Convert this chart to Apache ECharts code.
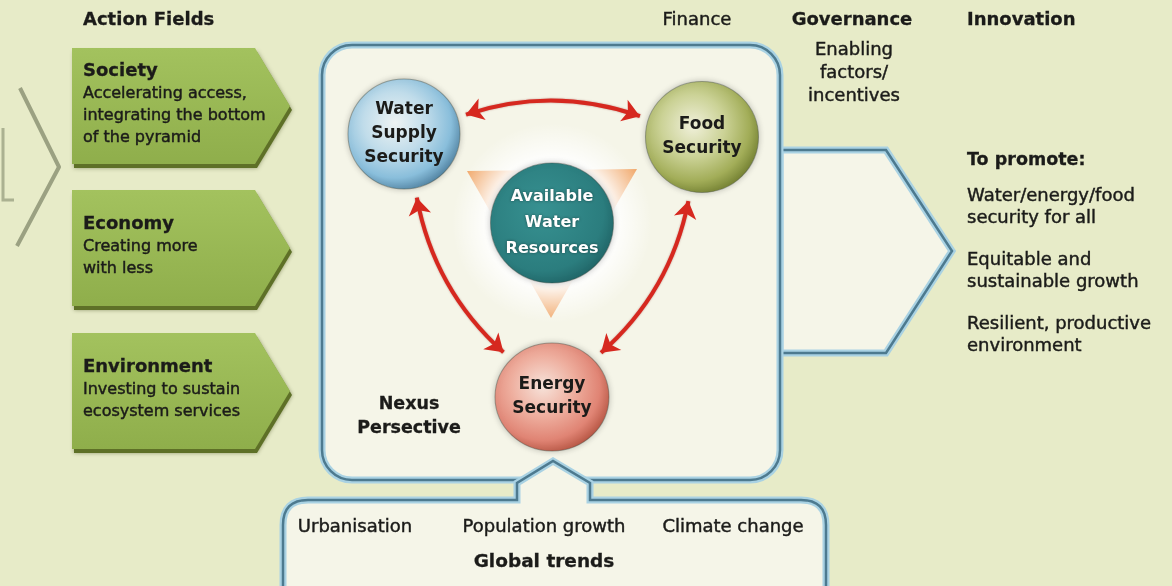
<!DOCTYPE html>
<html>
<head>
<meta charset="utf-8">
<title>Nexus perspective</title>
<script src="https://cdn.jsdelivr.net/npm/echarts@6.0.0/dist/echarts.min.js"></script>
<style>
  html, body { margin: 0; padding: 0; background: #e7ebc8; }
  #main { width: 1172px; height: 586px; }
</style>
</head>
<body>
<div id="main"></div>
<script>
// texts of the diagram
var actionTitle = 'Action Fields';
var actionFields = ['Society', 'Economy', 'Environment'];
var actionNotes = [
  ['Accelerating access,', 'integrating the bottom', 'of the pyramid'],
  ['Creating more', 'with less'],
  ['Investing to sustain', 'ecosystem services']
];
var nexusNodes = ['Water\nSupply\nSecurity', 'Food\nSecurity', 'Available\nWater\nResources', 'Energy\nSecurity'];
var nexusLinks = [[0, 1], [0, 3], [1, 3]];
var linkBend = [-1, 1, -1];
var enablers = ['Finance', 'Governance', 'Innovation'];
var enablerBold = [false, true, true];
var enablerNote = 'Enabling\nfactors/\nincentives';
var promoteTitle = 'To promote:';
var promoteItems = ['Water/energy/food\nsecurity for all', 'Equitable and\nsustainable growth', 'Resilient, productive\nenvironment'];
var nexusTitle = 'Nexus\nPersective';
var globalTrends = ['Urbanisation', 'Population growth', 'Climate change'];
var trendsTitle = 'Global trends';

// layout, in pixels of the 1172 x 586 frame
var nodePos = [[404, 134], [702, 137], [552, 223], [552, 397]];
var nodeSize = [[112, 110], [113, 111], [123, 120], [114, 108]];
var fieldTops = [48, 190, 333];
var enablerX = [697, 852, 967];
var enablerAlign = ['center', 'center', 'left'];
var trendX = [355, 544, 733];

var FONT = '"DejaVu Sans", "Liberation Sans", sans-serif';
var INK = '#1b1b19';
var PAPER = '#f5f5e8';
var LIGHT = '#a9d2e3', DARK = '#4d7a8f';

var myChart = echarts.init(document.getElementById('main'));

function radial(stops) {
  return new echarts.graphic.RadialGradient(0.42, 0.4, 0.62, stops.map(function (s) {
    return { offset: s[0], color: s[1] };
  }));
}
var nodeFill = [
  radial([[0, '#eef3f3'], [0.45, '#c0dcea'], [0.8, '#89bedb'], [1, '#5789a8']]),
  radial([[0, '#f0f0da'], [0.45, '#cbd296'], [0.8, '#a2ad58'], [1, '#788536']]),
  radial([[0, '#379191'], [0.8, '#2b7d7e'], [1, '#22686a']]),
  radial([[0, '#f7e3da'], [0.45, '#eeae9e'], [0.8, '#e08474'], [1, '#bb5a48']])
];

// arrow ends sit just outside the circles, turned a little to the outer side
var deg = Math.PI / 180;
function rim(p, q, r, rot) {
  var a = Math.atan2(q[1] - p[1], q[0] - p[0]) + rot;
  return [p[0] + r * Math.cos(a), p[1] + r * Math.sin(a)];
}
var linkData = nexusLinks.map(function (l, i) {
  var a = nodePos[l[0]], b = nodePos[l[1]];
  var ra = nodeSize[l[0]][0] / 2 + 9, rb = nodeSize[l[1]][0] / 2 + 9;
  var t = linkBend[i] * 18 * deg;
  return { coords: [rim(a, b, ra, t), rim(b, a, rb, -t)], lineStyle: { curveness: -linkBend[i] * 0.17 } };
});

function roundPoly(points, radii) {
  var out = [], n = points.length;
  for (var i = 0; i < n; i++) {
    var p = points[i], r = radii[i] || 0;
    if (!r) { out.push(p); continue; }
    var a = points[(i - 1 + n) % n], b = points[(i + 1) % n];
    var la = Math.hypot(a[0] - p[0], a[1] - p[1]), lb = Math.hypot(b[0] - p[0], b[1] - p[1]);
    var s = [p[0] + (a[0] - p[0]) / la * r, p[1] + (a[1] - p[1]) / la * r];
    var e = [p[0] + (b[0] - p[0]) / lb * r, p[1] + (b[1] - p[1]) / lb * r];
    for (var k = 0; k <= 8; k++) {
      var t = k / 8, u = 1 - t;
      out.push([u * u * s[0] + 2 * u * t * p[0] + t * t * e[0], u * u * s[1] + 2 * u * t * p[1] + t * t * e[1]]);
    }
  }
  return out;
}

function renderDecor(params, api) {
  function pt(p) { return api.coord(p); }
  function pts(list) { return list.map(pt); }
  var g = [];
  function outlined(points) {
    g.push({ type: 'polygon', shape: { points: pts(points) }, style: { fill: PAPER, stroke: LIGHT, lineWidth: 7 } });
    g.push({ type: 'polygon', shape: { points: pts(points) }, style: { fill: 'none', stroke: DARK, lineWidth: 2.5 } });
  }
  // faded arrow at the far left
  g.push({ type: 'polyline', shape: { points: pts([[20, 88], [59, 167], [17, 246]]) },
    style: { stroke: 'rgba(122,130,100,0.7)', lineWidth: 4, fill: 'none', lineJoin: 'round' } });
  g.push({ type: 'polyline', shape: { points: pts([[3, 128], [3, 200], [14, 200]]) },
    style: { stroke: 'rgba(122,130,100,0.55)', lineWidth: 3, fill: 'none' } });
  // action field arrows
  fieldTops.forEach(function (top) {
    var box = [[72, top], [255, top], [290, top + 58], [255, top + 116], [72, top + 116]];
    g.push({ type: 'polygon', shape: { points: pts(box.map(function (p) { return [p[0] + 2, p[1] + 4]; })) },
      style: { fill: '#5e7027', shadowBlur: 4, shadowColor: 'rgba(60,70,20,0.5)' } });
    g.push({ type: 'polygon', shape: { points: pts(box) },
      style: { fill: new echarts.graphic.LinearGradient(0, 0, 0, 1, [{ offset: 0, color: '#a3c25e' }, { offset: 1, color: '#8fae4b' }]) } });
  });
  // outcome arrow, nexus frame, global trends frame
  outlined([[780, 150], [886, 150], [952, 251], [886, 353], [780, 353]]);
  var a = pt([322, 45]), b = pt([780, 480]);
  var rect = { x: a[0], y: a[1], width: b[0] - a[0], height: b[1] - a[1], r: 30 };
  g.push({ type: 'rect', shape: rect, style: { fill: PAPER, stroke: LIGHT, lineWidth: 7 } });
  g.push({ type: 'rect', shape: rect, style: { fill: 'none', stroke: DARK, lineWidth: 2.5 } });
  outlined(roundPoly([[283, 610], [283, 500], [517, 500], [517, 483], [553, 461], [590, 483], [590, 500], [826, 500], [826, 610]],
    [0, 25, 0, 0, 0, 0, 0, 25, 0]));
  // orange triangle behind the glow of the centre
  g.push({ type: 'polygon', shape: { points: pts([[467, 171], [637, 169], [551, 318]]) }, style: { fill: '#f1a96c' } });
  var gc = pt(nodePos[2]);
  g.push({ type: 'circle', shape: { cx: gc[0], cy: gc[1], r: 100 },
    style: { fill: new echarts.graphic.RadialGradient(0.5, 0.5, 0.5, [
      { offset: 0, color: 'rgba(255,255,255,1)' }, { offset: 0.6, color: 'rgba(255,255,255,1)' }, { offset: 1, color: 'rgba(255,255,255,0)' }]) } });
  return { type: 'group', children: g };
}

var texts = [];
function txt(x, y, s, size, bold, align, lh) {
  texts.push({ type: 'text', x: x, y: y, z: 100, silent: true,
    style: { text: s, fill: INK, stroke: INK, lineWidth: bold ? 0.3 : 0.45,
      font: (bold ? 'bold ' : '') + size + 'px ' + FONT,
      textAlign: align || 'left', textVerticalAlign: 'middle', lineHeight: lh || Math.round(size * 1.25) } });
}
txt(83, 20, actionTitle, 18, true);
enablers.forEach(function (s, i) { txt(enablerX[i], 20, s, 18, enablerBold[i], enablerAlign[i]); });
txt(854, 73, enablerNote, 18, false, 'center', 23);
fieldTops.forEach(function (top, i) {
  var notes = actionNotes[i];
  var y0 = top + 56.5 - notes.length * 11;
  txt(83, y0, actionFields[i], 18, true);
  notes.forEach(function (s, k) { txt(83, y0 + 22 * (k + 1), s, 16); });
});
txt(967, 160, promoteTitle, 17.5, true);
promoteItems.forEach(function (s, i) { txt(967, 207.5 + 64 * i, s, 18, false, 'left', 21.5); });
txt(409, 416, nexusTitle, 17.5, true, 'center', 24);
globalTrends.forEach(function (s, i) { txt(trendX[i], 527, s, 18, false, 'center'); });
txt(544, 562, trendsTitle, 18.5, true, 'center');

var option = {
  backgroundColor: '#e7ebc8',
  animation: false,
  grid: { left: 0, right: 0, top: 0, bottom: 0 },
  xAxis: { type: 'value', min: 0, max: 1172, show: false },
  yAxis: { type: 'value', min: 0, max: 586, inverse: true, show: false },
  graphic: texts,
  series: [
    { type: 'custom', z: 1, silent: true, data: [[0, 0]], renderItem: renderDecor },
    {
      type: 'lines', coordinateSystem: 'cartesian2d', z: 3, silent: true,
      symbol: ['arrow', 'arrow'], symbolSize: 17,
      lineStyle: { color: '#d6281f', width: 4, opacity: 1, shadowBlur: 2, shadowColor: 'rgba(120,0,0,0.4)' },
      data: linkData
    },
    {
      type: 'scatter', z: 4, silent: true,
      data: nexusNodes.map(function (name, i) {
        var item = { name: name, value: nodePos[i], symbolSize: nodeSize[i], itemStyle: { color: nodeFill[i] } };
        if (i === 2) {
          item.label = { color: '#ffffff', fontSize: 16, lineHeight: 26, textShadowBlur: 3, textShadowColor: 'rgba(0,0,0,0.45)' };
        }
        return item;
      }),
      itemStyle: { opacity: 1, borderColor: 'rgba(60,70,60,0.4)', borderWidth: 1, shadowBlur: 6, shadowColor: 'rgba(0,0,0,0.25)' },
      label: { show: true, position: 'inside', formatter: '{b}', fontFamily: 'DejaVu Sans', fontWeight: 'bold',
        fontSize: 17, lineHeight: 24, color: INK },
      emphasis: { disabled: true }
    }
  ]
};
myChart.setOption(option);
</script>
</body>
</html>
